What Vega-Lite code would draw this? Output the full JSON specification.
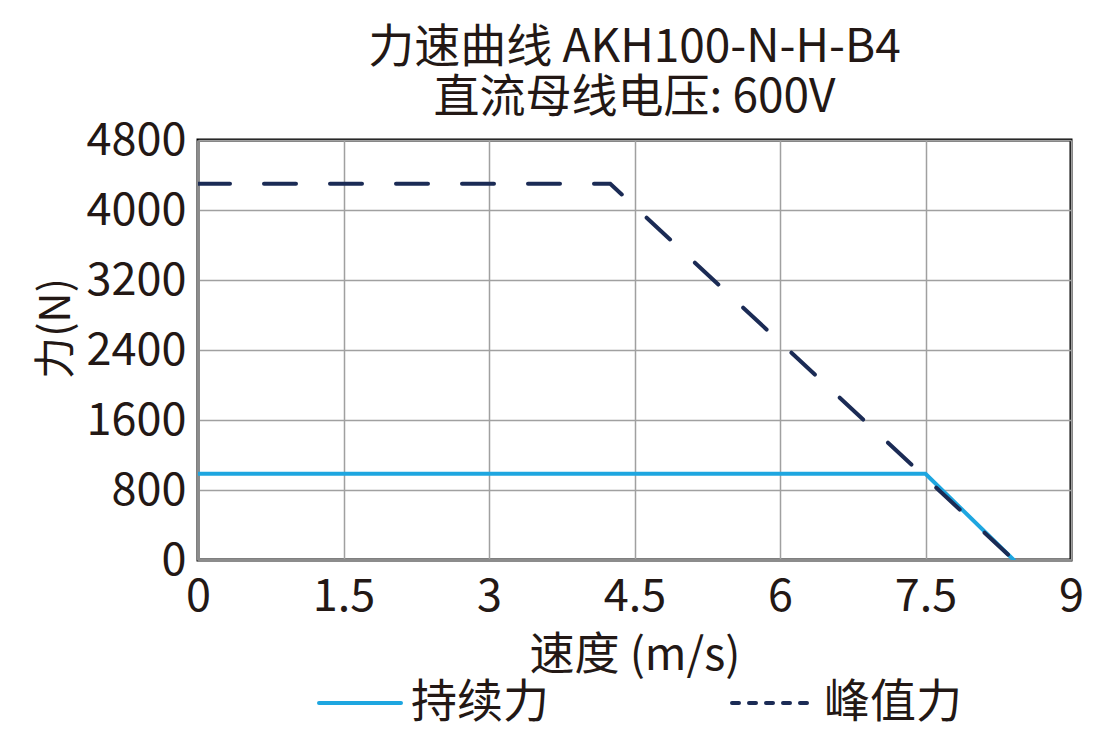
{
  "$schema": "https://vega.github.io/schema/vega-lite/v6.json",
  "width": 873,
  "height": 420,
  "padding": {"left": 35, "top": 25, "right": 10, "bottom": 5},
  "background": "white",
  "title": {
    "text": ["力速曲线 AKH100-N-H-B4", "直流母线电压: 600V"],
    "font": "Noto Sans CJK SC",
    "fontSize": 46,
    "fontWeight": "normal",
    "color": "#231815",
    "lineHeight": 50,
    "anchor": "middle",
    "offset": -4
  },
  "config": {
    "font": "Noto Sans CJK SC",
    "view": {"stroke": "#000000", "strokeWidth": 3},
    "axis": {
      "labelFont": "Noto Sans CJK SC",
      "titleFont": "Noto Sans CJK SC",
      "labelFontSize": 45,
      "titleFontSize": 45,
      "titleFontWeight": "normal",
      "labelColor": "#231815",
      "titleColor": "#231815",
      "gridColor": "#a0a0a0",
      "gridWidth": 1.5,
      "gridOpacity": 1,
      "domainColor": "#8c8c8c",
      "domainWidth": 3,
      "tickSize": 0,
      "labelPadding": 12
    },
    "legend": {
      "labelFont": "Noto Sans CJK SC",
      "labelFontSize": 46,
      "labelColor": "#231815",
      "labelLimit": 400
    }
  },
  "data": {
    "values": [
      {"speed": 0, "force": 985, "curve": "持续力"},
      {"speed": 7.5, "force": 985, "curve": "持续力"},
      {"speed": 8.41, "force": 0, "curve": "持续力"},
      {"speed": 0, "force": 4300, "curve": "峰值力"},
      {"speed": 4.25, "force": 4300, "curve": "峰值力"},
      {"speed": 8.41, "force": 0, "curve": "峰值力"}
    ]
  },
  "encoding": {
    "x": {
      "field": "speed",
      "type": "quantitative",
      "title": "速度 (m/s)",
      "scale": {"domain": [0, 9], "nice": false},
      "axis": {"values": [0, 1.5, 3, 4.5, 6, 7.5, 9], "format": ".1~f", "titlePadding": 14, "labelFlush": false, "labelPadding": 14}
    },
    "y": {
      "field": "force",
      "type": "quantitative",
      "title": "力(N)",
      "scale": {"domain": [0, 4800], "nice": false},
      "axis": {"values": [0, 800, 1600, 2400, 3200, 4000, 4800], "format": "d", "titlePadding": 8, "titleFontSize": 42, "titleY": 188, "labelFlush": false}
    },
    "color": {
      "field": "curve",
      "type": "nominal",
      "title": null,
      "scale": {"domain": ["持续力", "峰值力"], "range": ["#1ea6e0", "#1b2b55"]},
      "legend": {
        "orient": "none",
        "legendX": 119,
        "legendY": 520,
        "direction": "horizontal",
        "symbolType": "stroke",
        "symbolSize": 6724,
        "symbolStrokeWidth": 4,
        "labelOffset": 8,
        "columnPadding": 175,
        "encode": {
          "symbols": {
            "update": {
              "strokeDash": {"signal": "datum.value === '峰值力' ? [7, 10] : [1, 0]"},
              "strokeCap": {"value": "round"}
            }
          }
        }
      }
    }
  },
  "layer": [
    {
      "transform": [{"filter": "datum.curve === '持续力'"}],
      "mark": {"type": "line", "strokeWidth": 4, "strokeCap": "round", "clip": true}
    },
    {
      "transform": [{"filter": "datum.curve === '峰值力'"}],
      "mark": {"type": "line", "strokeWidth": 4, "strokeCap": "round", "strokeDash": [32, 34], "clip": true}
    }
  ]
}
